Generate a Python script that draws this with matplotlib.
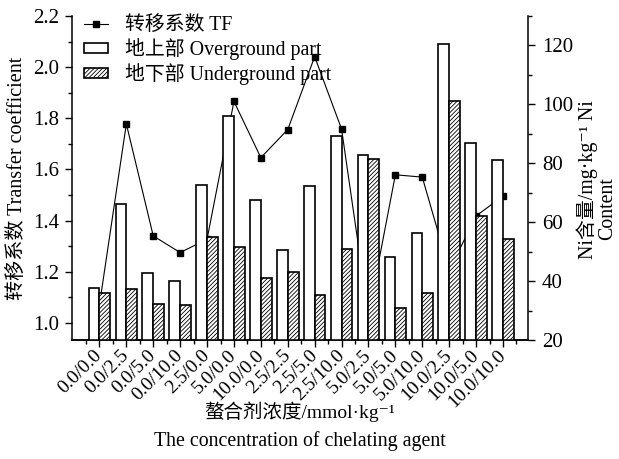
import matplotlib
matplotlib.use('Agg')
import matplotlib.pyplot as plt
import numpy as np

categories = ['0.0/0.0', '0.0/2.5', '0.0/5.0', '0.0/10.0', '2.5/0.0', '5.0/0.0',
              '10.0/0.0', '2.5/2.5', '2.5/5.0', '2.5/10.0', '5.0/2.5', '5.0/5.0',
              '5.0/10.0', '10.0/2.5', '10.0/5.0', '10.0/10.0']
tf = [1.07, 1.778, 1.340, 1.275, 1.327, 1.866, 1.646, 1.756, 2.041, 1.758,
      1.03, 1.579, 1.570, 1.205, 1.418, 1.496]
overground = [37.8, 66.1, 42.9, 40.0, 72.6, 96.1, 67.6, 50.6, 72.3, 89.4,
              82.8, 48.2, 56.4, 120.4, 87.0, 81.0]
underground = [35.9, 37.2, 32.1, 31.8, 55.1, 51.5, 41.1, 43.0, 35.3, 51.0,
               81.6, 30.9, 36.0, 101.2, 62.0, 54.3]
left_ticks = [1.0, 1.2, 1.4, 1.6, 1.8, 2.0, 2.2]
right_ticks = [20, 40, 60, 80, 100, 120]

FAM = ['Liberation Serif', 'Noto Sans CJK SC', 'DejaVu Sans']
plt.rcParams['font.family'] = FAM
plt.rcParams['font.size'] = 14.3
plt.rcParams['hatch.linewidth'] = 0.6

W, H = 619, 459
fig = plt.figure(figsize=(W / 100, H / 100), dpi=100)
ax = fig.add_axes([72 / W, 1 - 340 / H, (528 - 72) / W, (340 - 16) / H])
ax2 = ax.twinx()

x = np.arange(len(categories))
line, = ax.plot(x, tf, color='black', lw=0.8, marker='s', ms=4.5, zorder=3,
                label='转移系数 TF')
b1 = ax2.bar(x - 0.2, overground, width=0.4, facecolor='white', edgecolor='black',
             lw=1.2, label='地上部 Overground part')
b2 = ax2.bar(x + 0.2, underground, width=0.4, facecolor='white', edgecolor='black',
             hatch='////////', lw=1.2, label='地下部 Underground part')

ax.set_xlim(-1.02, 15.93)
ax.set_ylim(0.933, 2.2)
ax2.set_ylim(20, 130)

ax.set_yticks(left_ticks)
ax.set_yticks(np.arange(1.1, 2.15, 0.2), minor=True)
ax2.set_yticks(right_ticks)
ax2.set_yticks(np.arange(30, 131, 20), minor=True)
ax.set_xticks(x)
ax.set_xticks(np.arange(-0.5, 15.6, 1.0), minor=True)
ax.set_xticklabels(categories, rotation=45, ha='right', va='center',
                   rotation_mode='anchor', fontsize=14)
ax.set_yticklabels([f'{v:.1f}' for v in left_ticks], fontsize=15)
ax2.set_yticklabels([str(v) for v in right_ticks], fontsize=15)

for a in (ax, ax2):
    a.spines['top'].set_visible(False)
    for s in a.spines.values():
        s.set_linewidth(1.1)
ax.spines['right'].set_visible(False)
ax2.spines['left'].set_visible(False)
ax.tick_params(which='major', length=5, width=1.0, pad=4)
ax.tick_params(which='minor', length=3, width=1.0)
ax2.tick_params(which='major', length=5, width=1.0, pad=5)
ax2.tick_params(which='minor', length=3, width=1.0)

leg = ax.legend([line, b1, b2],
                ['转移系数 TF', '地上部 Overground part', '地下部 Underground part'],
                loc='upper left', bbox_to_anchor=(0.005, 1.03), frameon=False,
                borderpad=0, handlelength=1.2, handleheight=0.4,
                handletextpad=0.85, labelspacing=0.15, fontsize=14.3)
leg.set_zorder(1)

fig.text(17 / W, 1 - 178 / H, '转移系数 Transfer coefficient', rotation=90,
         ha='center', va='center', fontsize=14.5)
fig.text(587 / W, 1 - 180 / H, 'Ni含量/mg·kg⁻¹ Ni', rotation=90,
         ha='center', va='center')
fig.text(608 / W, 1 - 209 / H, 'Content', rotation=90, ha='center', va='center')
fig.text(300 / W, 1 - 412 / H, '螯合剂浓度/mmol·kg⁻¹', ha='center', va='center',
         fontsize=14)
fig.text(300 / W, 1 - 441 / H, 'The concentration of chelating agent',
         ha='center', va='center')

fig.savefig('out.png', dpi=100)
